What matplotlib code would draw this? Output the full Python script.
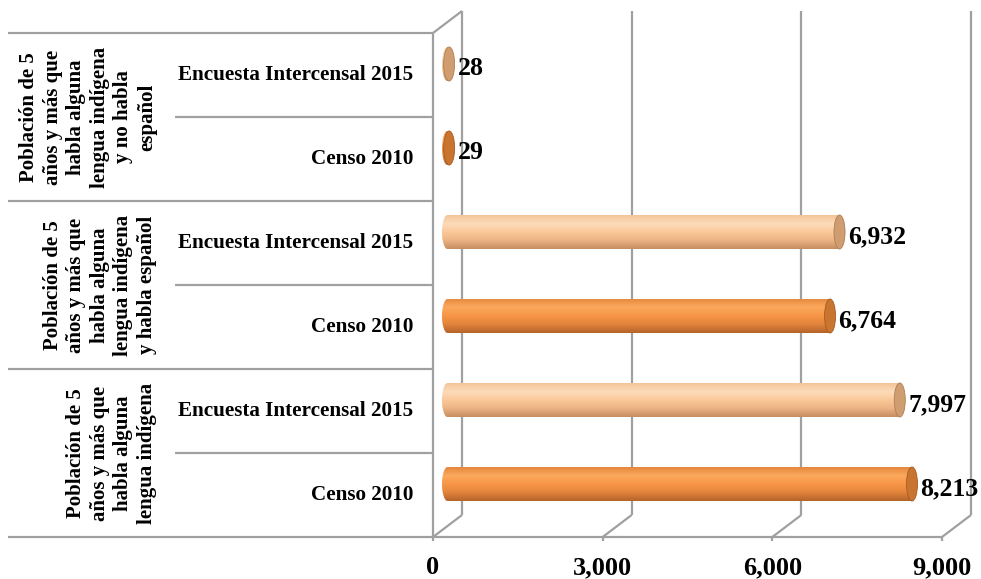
import matplotlib
matplotlib.use("Agg")
import matplotlib.pyplot as plt
import numpy as np
from matplotlib.patches import Ellipse, PathPatch
from matplotlib.path import Path
from matplotlib.colors import LinearSegmentedColormap
from matplotlib.transforms import blended_transform_factory

plt.rcParams['font.family'] = ['Liberation Serif', 'DejaVu Serif']
plt.rcParams['font.weight'] = 'bold'

# data
groups = ["Población de 5\naños y más que\nhabla alguna\nlengua indígena",
          "Población de 5\naños y más que\nhabla alguna\nlengua indígena\ny habla español",
          "Población de 5\naños y más que\nhabla alguna\nlengua indígena\ny no habla\nespañol"]
series = ["Censo 2010", "Encuesta Intercensal 2015"]
censo = [8213, 6764, 29]
encuesta = [7997, 6932, 28]
xticks = [0, 3000, 6000, 9000]

W, H = 981, 579
fig = plt.figure(figsize=(W / 100, H / 100), dpi=100)
# front plane of the 3d box, in pixels
x_left, x_right, y_top, y_bot = 433, 942, 33, 537
ax = fig.add_axes([x_left / W, (H - y_bot) / H, (x_right - x_left) / W, (y_bot - y_top) / H])
xmax = 9000
nrows = 6
ax.set_xlim(0, xmax)
ax.set_ylim(0, nrows)
ax.axis('off')

# depth of the box (pixels -> data)
px_x = xmax / (x_right - x_left)
px_y = nrows / (y_bot - y_top)
DX, DY = 29 * px_x, 22 * px_y

grid_c = '#a0a0a0'
lw = 1.6
kw = dict(color=grid_c, lw=lw, clip_on=False, solid_capstyle='butt')
# back wall verticals + floor diagonals
for t in xticks:
    ax.plot([t + DX, t + DX], [DY, nrows + DY], **kw)
    ax.plot([t, t + DX], [0, DY], **kw)
# left wall
ax.plot([0, 0], [0, nrows], **kw)
ax.plot([0, DX], [nrows, nrows + DY], **kw)
# front floor edge + ticks
ax.plot([0, xmax], [0, 0], **kw)
for t in xticks:
    ax.plot([t, t], [0, -4 * px_y], **kw)
    ax.text(t, -31 * px_y, f"{t:,}", ha='center', va='center', fontsize=19, fontweight='bold')

# left category table
bt = blended_transform_factory(fig.transFigure, ax.transData)
for g in range(len(groups) + 1):
    ax.plot([8 / W, x_left / W], [2 * g, 2 * g], transform=bt, **kw)
for g in range(len(groups)):
    ax.plot([175 / W, x_left / W], [2 * g + 1, 2 * g + 1], transform=bt, **kw)
    ax.text(157 / W, 2 * g + 1, groups[g], transform=bt, rotation=90, ha='right', va='center',
            multialignment='center', fontsize=15, fontweight='bold', linespacing=1.24)
    for s in range(2):
        ax.text(413 / W, 2 * g + s + 0.5, series[s], transform=bt, ha='right', va='center',
                fontsize=15.2, fontweight='bold')

# cylinder bars
cmaps = [LinearSegmentedColormap.from_list('c', ['#e4873c', '#fba95e', '#f79646', '#e2843b', '#b4642a']),
         LinearSegmentedColormap.from_list('e', ['#f3c49a', '#fddcba', '#fac898', '#ecb383', '#c58e62'])]
cap_face = ['#c9742f', '#cf9d70']
cap_edge = ['#a65c22', '#ad7f55']
bar_h = 34 * px_y
a = 5.5 * px_x
b = bar_h / 2
grad = np.linspace(0, 1, 64)

for s, vals in enumerate([censo, encuesta]):
    for g, v in enumerate(vals):
        yc = 2 * g + s + 0.5 + DY / 2
        x0 = DX / 2
        x1 = v + DX / 2
        t = np.linspace(np.pi / 2, 3 * np.pi / 2, 40)
        verts = np.column_stack([x0 + a * np.cos(t), yc + b * np.sin(t)])
        verts = np.vstack([verts, [[x1, yc - b], [x1, yc + b], [x0, yc + b]]])
        patch = PathPatch(Path(verts), facecolor='none', edgecolor='none')
        ax.add_patch(patch)
        img = ax.imshow(grad[:, None], cmap=cmaps[s], aspect='auto', interpolation='bicubic',
                        extent=[x0 - a, x1, yc - b, yc + b], zorder=3)
        img.set_clip_path(patch)
        ax.add_patch(Ellipse((x1, yc), 2 * a, 2 * b, facecolor=cap_face[s], edgecolor=cap_edge[s],
                             lw=0.6, zorder=4))
        ax.text(x1 + a + 3 * px_x, yc - 5 * px_y, f"{v:,}", ha='left', va='center',
                fontsize=18.5, fontweight='bold', zorder=5)

ax.set_xlim(0, xmax)
ax.set_ylim(0, nrows)
fig.savefig("out.png", dpi=100, facecolor='white')
